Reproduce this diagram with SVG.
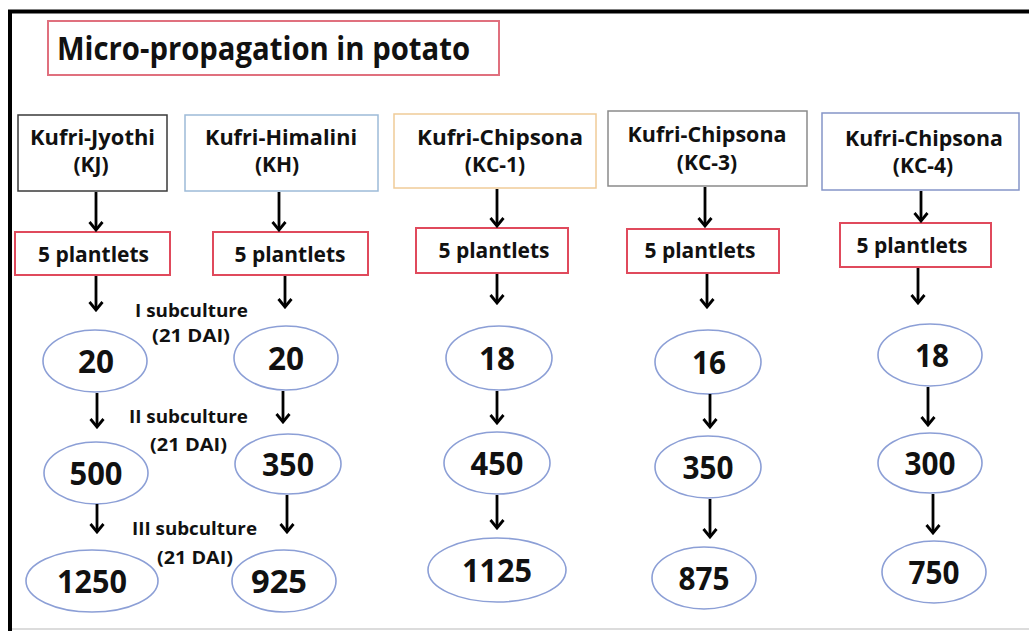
<svg xmlns="http://www.w3.org/2000/svg" width="1029" height="631" viewBox="0 0 1029 631">
<defs>
<marker id="arr" viewBox="-11 -8 13 16" refX="0" refY="0" markerWidth="13" markerHeight="16" markerUnits="userSpaceOnUse" orient="auto">
<polyline points="-8,-6.5 0,0 -8,6.5" fill="none" stroke="#000" stroke-width="2.8" stroke-linejoin="miter"/>
</marker>
</defs>
<style>
text{font-family:"Open Sans","Liberation Sans",sans-serif;font-weight:700;fill:#111;text-anchor:middle}
.title{font-size:32px;text-anchor:start}
.var{font-size:21px}
.pl{font-size:21px}
.num{font-size:33px}
.sub{font-size:18px}
.b-title{fill:#fff;stroke:#e0707e;stroke-width:2}
.b-pl{fill:#fff;stroke:#e04a5c;stroke-width:2}
.b-var{fill:#fff;stroke-width:1.5}
.ell{fill:#fff;stroke:#8c9fd6;stroke-width:1.6}
.conn line{stroke:#000;stroke-width:2.8;marker-end:url(#arr)}
</style>
<rect x="0" y="0" width="1029" height="631" fill="#fff"/>
<g id="frame">
<line x1="8" y1="11.5" x2="1029" y2="11.5" stroke="#000" stroke-width="4"/>
<line x1="10" y1="10" x2="10" y2="631" stroke="#000" stroke-width="4"/>
<line x1="12" y1="629" x2="1029" y2="629" stroke="#d0d0d0" stroke-width="1.5"/>
</g>
<g id="title">
<rect class="b-title" x="48" y="21" width="451" height="54"/>
<text class="title" x="57" y="60" textLength="413" lengthAdjust="spacingAndGlyphs">Micro-propagation in potato</text>
</g>
<g id="kj">
<rect class="b-var" x="18" y="115" width="149" height="76" stroke="#3a3a3a"/>
<text class="var" x="92.5" y="145" textLength="125" lengthAdjust="spacingAndGlyphs">Kufri-Jyothi</text>
<text class="var" x="91" y="172">(KJ)</text>
</g>
<g id="kh">
<rect class="b-var" x="185" y="115" width="193" height="76" stroke="#9dbbd8"/>
<text class="var" x="281" y="145" textLength="152" lengthAdjust="spacingAndGlyphs">Kufri-Himalini</text>
<text class="var" x="277" y="172">(KH)</text>
</g>
<g id="kc1">
<rect class="b-var" x="394" y="114" width="202" height="74" stroke="#f0cb98"/>
<text class="var" x="500" y="145" textLength="166" lengthAdjust="spacingAndGlyphs">Kufri-Chipsona</text>
<text class="var" x="495" y="172">(KC-1)</text>
</g>
<g id="kc3">
<rect class="b-var" x="608" y="111" width="199" height="75" stroke="#8a8a8a"/>
<text class="var" x="707" y="142" textLength="159" lengthAdjust="spacingAndGlyphs">Kufri-Chipsona</text>
<text class="var" x="707" y="170">(KC-3)</text>
</g>
<g id="kc4">
<rect class="b-var" x="822" y="113" width="197" height="77" stroke="#8595c8"/>
<text class="var" x="924" y="146" textLength="158" lengthAdjust="spacingAndGlyphs">Kufri-Chipsona</text>
<text class="var" x="923" y="173">(KC-4)</text>
</g>
<g id="pl-kj"><rect class="b-pl" x="15" y="232" width="155" height="43"/><text class="pl" x="93.5" y="262">5 plantlets</text></g>
<g id="pl-kh"><rect class="b-pl" x="213" y="232" width="155" height="43"/><text class="pl" x="290" y="262">5 plantlets</text></g>
<g id="pl-kc1"><rect class="b-pl" x="416" y="228" width="152" height="45"/><text class="pl" x="494" y="258">5 plantlets</text></g>
<g id="pl-kc3"><rect class="b-pl" x="627" y="229" width="152" height="44"/><text class="pl" x="700" y="258">5 plantlets</text></g>
<g id="pl-kc4"><rect class="b-pl" x="840" y="223" width="151" height="44"/><text class="pl" x="912" y="253">5 plantlets</text></g>
<g id="n-kj-1"><ellipse class="ell" cx="95" cy="361" rx="52" ry="31"/><text class="num" x="96" y="373" textLength="36" lengthAdjust="spacingAndGlyphs">20</text></g>
<g id="n-kj-2"><ellipse class="ell" cx="96" cy="473" rx="52" ry="31"/><text class="num" x="96" y="485" textLength="53" lengthAdjust="spacingAndGlyphs">500</text></g>
<g id="n-kj-3"><ellipse class="ell" cx="92" cy="581" rx="66" ry="31"/><text class="num" x="92" y="593" textLength="70" lengthAdjust="spacingAndGlyphs">1250</text></g>
<g id="n-kh-1"><ellipse class="ell" cx="286" cy="358" rx="52" ry="32"/><text class="num" x="286" y="370" textLength="36" lengthAdjust="spacingAndGlyphs">20</text></g>
<g id="n-kh-2"><ellipse class="ell" cx="288" cy="464" rx="53" ry="30"/><text class="num" x="288" y="476" textLength="52" lengthAdjust="spacingAndGlyphs">350</text></g>
<g id="n-kh-3"><ellipse class="ell" cx="284" cy="581" rx="52" ry="31"/><text class="num" x="279" y="593" textLength="56" lengthAdjust="spacingAndGlyphs">925</text></g>
<g id="n-kc1-1"><ellipse class="ell" cx="499" cy="358" rx="53" ry="32"/><text class="num" x="497" y="370" textLength="36" lengthAdjust="spacingAndGlyphs">18</text></g>
<g id="n-kc1-2"><ellipse class="ell" cx="497" cy="463" rx="53" ry="31"/><text class="num" x="497" y="475" textLength="53" lengthAdjust="spacingAndGlyphs">450</text></g>
<g id="n-kc1-3"><ellipse class="ell" cx="497" cy="570" rx="69" ry="32"/><text class="num" x="497" y="582" textLength="70" lengthAdjust="spacingAndGlyphs">1125</text></g>
<g id="n-kc3-1"><ellipse class="ell" cx="708" cy="362" rx="53" ry="32"/><text class="num" x="709" y="374" textLength="34" lengthAdjust="spacingAndGlyphs">16</text></g>
<g id="n-kc3-2"><ellipse class="ell" cx="708" cy="467" rx="53" ry="31"/><text class="num" x="708" y="479" textLength="51" lengthAdjust="spacingAndGlyphs">350</text></g>
<g id="n-kc3-3"><ellipse class="ell" cx="704" cy="578" rx="52" ry="31"/><text class="num" x="704" y="590" textLength="51" lengthAdjust="spacingAndGlyphs">875</text></g>
<g id="n-kc4-1"><ellipse class="ell" cx="930" cy="355" rx="52" ry="31"/><text class="num" x="932" y="367" textLength="34" lengthAdjust="spacingAndGlyphs">18</text></g>
<g id="n-kc4-2"><ellipse class="ell" cx="930" cy="463" rx="52" ry="30"/><text class="num" x="930" y="475" textLength="51" lengthAdjust="spacingAndGlyphs">300</text></g>
<g id="n-kc4-3"><ellipse class="ell" cx="934" cy="572" rx="52" ry="31"/><text class="num" x="934" y="584" textLength="51" lengthAdjust="spacingAndGlyphs">750</text></g>
<g id="labels">
<text class="sub" x="191.5" y="317" textLength="113" lengthAdjust="spacingAndGlyphs">I subculture</text>
<text class="sub" x="191" y="342" textLength="78" lengthAdjust="spacingAndGlyphs">(21 DAI)</text>
<text class="sub" x="188.5" y="423" textLength="119" lengthAdjust="spacingAndGlyphs">II subculture</text>
<text class="sub" x="188.5" y="451" textLength="77" lengthAdjust="spacingAndGlyphs">(21 DAI)</text>
<text class="sub" x="194.5" y="535" textLength="125" lengthAdjust="spacingAndGlyphs">III subculture</text>
<text class="sub" x="195" y="564" textLength="76" lengthAdjust="spacingAndGlyphs">(21 DAI)</text>
</g>
<g class="conn" id="connectors">
<line x1="96" y1="192" x2="96" y2="230"/>
<line x1="279" y1="192" x2="279" y2="230"/>
<line x1="497" y1="189" x2="497" y2="226"/>
<line x1="705" y1="187" x2="705" y2="226"/>
<line x1="921" y1="191" x2="921" y2="221"/>
<line x1="96" y1="276" x2="96" y2="310"/>
<line x1="285" y1="276" x2="285" y2="307"/>
<line x1="497" y1="274" x2="497" y2="303"/>
<line x1="707" y1="274" x2="707" y2="307"/>
<line x1="918" y1="268" x2="918" y2="303"/>
<line x1="97" y1="393" x2="97" y2="427"/>
<line x1="283" y1="391" x2="283" y2="422"/>
<line x1="497" y1="391" x2="497" y2="423"/>
<line x1="710" y1="394" x2="710" y2="427"/>
<line x1="928" y1="387" x2="928" y2="425"/>
<line x1="97" y1="504" x2="97" y2="532"/>
<line x1="287" y1="495" x2="287" y2="532"/>
<line x1="497" y1="495" x2="497" y2="528"/>
<line x1="710" y1="499" x2="710" y2="537"/>
<line x1="933" y1="494" x2="933" y2="533"/>
</g>
</svg>
